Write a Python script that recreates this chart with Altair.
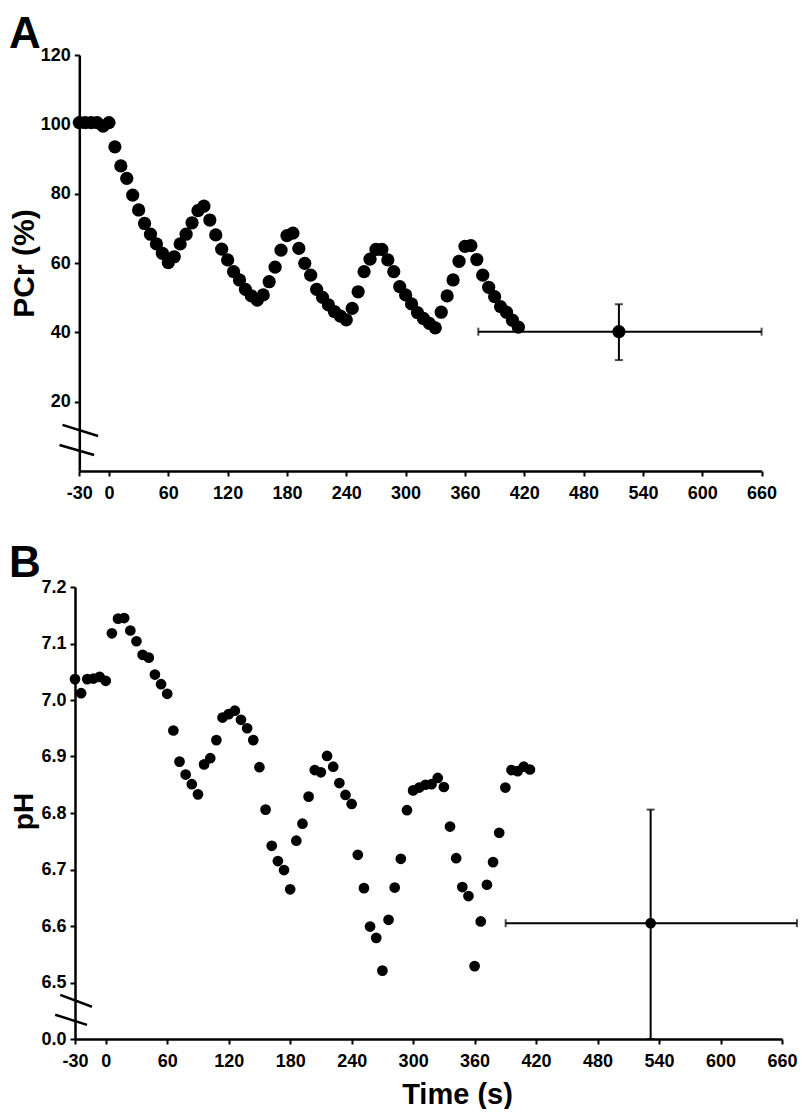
import altair as alt
import pandas as pd

# ---------------- data ----------------
time_s = [-30, -24, -18, -12, -6, 0, 6, 12, 18, 24, 30, 36, 42, 48, 54, 60,
          66, 72, 78, 84, 90, 96, 102, 108, 114, 120, 126, 132, 138, 144, 150,
          156, 162, 168, 174, 180, 186, 192, 198, 204, 210, 216, 222, 228, 234,
          240, 246, 252, 258, 264, 270, 276, 282, 288, 294, 300, 306, 312, 318,
          324, 330, 336, 342, 348, 354, 360, 366, 372, 378, 384, 390, 396, 402,
          408, 414]

pcr_pct = [100.5, 100.5, 100.5, 100.5, 99.5, 100.5, 93.5, 88.0, 84.4, 79.6,
           75.3, 71.4, 68.3, 65.5, 62.8, 60.1, 61.8, 65.5, 68.3, 71.6, 75.1,
           76.4, 72.4, 68.1, 64.0, 60.9, 57.5, 55.1, 52.4, 50.5, 49.3, 50.8,
           54.6, 58.8, 63.7, 67.9, 68.6, 64.2, 59.9, 56.5, 52.4, 50.1, 47.9,
           46.0, 44.7, 43.6, 46.9, 51.7, 57.5, 61.1, 63.9, 63.9, 60.9, 57.5,
           53.2, 50.8, 48.2, 45.7, 44.0, 42.6, 41.3, 45.8, 50.5, 55.1, 60.5,
           64.8, 65.0, 61.0, 56.5, 53.0, 50.3, 47.4, 45.8, 43.5, 41.5]

ph_vals = [7.037, 7.012, 7.037, 7.038, 7.041, 7.034, 7.118, 7.144, 7.145, 7.123,
           7.104, 7.080, 7.075, 7.045, 7.028, 7.011, 6.946, 6.891, 6.868, 6.851,
           6.833, 6.886, 6.897, 6.929, 6.969, 6.975, 6.981, 6.965, 6.950, 6.929,
           6.881, 6.806, 6.742, 6.715, 6.699, 6.665, 6.751, 6.781, 6.829, 6.876,
           6.872, 6.901, 6.882, 6.853, 6.832, 6.816, 6.726, 6.667, 6.599, 6.579,
           6.521, 6.611, 6.668, 6.719, 6.805, 6.840, 6.845, 6.850, 6.851, 6.862,
           6.846, 6.776, 6.720, 6.669, 6.653, 6.529, 6.608, 6.673, 6.713, 6.765,
           6.845, 6.876, 6.874, 6.882, 6.877]

# recovery summary points (mean +/- SD)
pcr_rec = {"t": 515.7, "t_lo": 373.5, "t_hi": 660.0, "v": 40.2, "v_lo": 32.0, "v_hi": 48.1}
ph_rec = {"t": 531.8, "t_lo": 390.3, "t_hi": 674.6, "v": 6.605, "v_lo": 6.40, "v_hi": 6.806}

x_ticks = [-30, 0, 60, 120, 180, 240, 300, 360, 420, 480, 540, 600, 660]
pcr_ticks = [20, 40, 60, 80, 100, 120]
ph_ticks = [6.4, 6.5, 6.6, 6.7, 6.8, 6.9, 7.0, 7.1, 7.2]

# axis-break marks (data units)
pcr_breaks = [{"x": -47, "x2": -11, "y": 13.3, "y2": 10.1},
              {"x": -50, "x2": -15, "y": 7.5, "y2": 4.6}]
ph_breaks = [{"x": -44.4, "x2": -13.5, "y": 6.478, "y2": 6.457},
             {"x": -49.3, "x2": -18.3, "y": 6.443, "y2": 6.425}]

FONT = "Liberation Sans"
W = 707
LEFT = -66

df_a = pd.DataFrame({"t": time_s, "v": pcr_pct})
df_b = pd.DataFrame({"t": time_s, "v": ph_vals})


def panel(df, rec, breaks, letter, height, xscale, yscale, yaxis, xaxis, dot_size, ylet, ytop):
    x = alt.X("t:Q", scale=xscale, axis=xaxis)
    y = alt.Y("v:Q", scale=yscale, axis=yaxis)
    pts = alt.Chart(df).mark_circle(size=dot_size, color="black", opacity=1).encode(x=x, y=y)

    rdf = pd.DataFrame([rec])
    hbar = alt.Chart(rdf).mark_rule(color="black", strokeWidth=2).encode(
        x=alt.X("t_lo:Q", scale=xscale), x2="t_hi:Q", y=alt.Y("v:Q", scale=yscale))
    vbar = alt.Chart(rdf).mark_rule(color="black", strokeWidth=2).encode(
        x=alt.X("t:Q", scale=xscale), y=alt.Y("v_lo:Q", scale=yscale), y2="v_hi:Q")
    hcaps_df = pd.DataFrame({"t": [rec["t_lo"], rec["t_hi"]], "v": [rec["v"], rec["v"]]})
    vcaps_df = pd.DataFrame({"t": [rec["t"], rec["t"]], "v": [rec["v_lo"], rec["v_hi"]]})
    hcaps = alt.Chart(hcaps_df).mark_tick(orient="vertical", color="black", size=8, thickness=2).encode(
        x=alt.X("t:Q", scale=xscale), y=alt.Y("v:Q", scale=yscale))
    vcaps = alt.Chart(vcaps_df).mark_tick(orient="horizontal", color="black", size=8, thickness=2).encode(
        x=alt.X("t:Q", scale=xscale), y=alt.Y("v:Q", scale=yscale))
    cen = alt.Chart(rdf).mark_circle(size=dot_size, color="black", opacity=1).encode(
        x=alt.X("t:Q", scale=xscale), y=alt.Y("v:Q", scale=yscale))

    brk = alt.Chart(pd.DataFrame(breaks)).mark_rule(color="black", strokeWidth=2.5).encode(
        x=alt.X("x:Q", scale=xscale), x2="x2:Q", y=alt.Y("y:Q", scale=yscale), y2="y2:Q")

    lab = alt.Chart(pd.DataFrame({"lab": [letter]})).mark_text(
        align="left", baseline="top", font=FONT, fontSize=44, fontWeight="bold", color="black"
    ).encode(x=alt.value(LEFT), y=alt.value(ylet), text="lab:N")

    # invisible spacer that reserves room above the panel letter
    spacer = alt.Chart(pd.DataFrame({"s": [0]})).mark_rule(color="white", strokeOpacity=0, strokeWidth=0.1).encode(
        x=alt.value(LEFT), x2=alt.value(LEFT + 1), y=alt.value(ytop))

    return alt.layer(pts, hbar, vbar, hcaps, vcaps, cen, brk, lab, spacer).properties(width=W, height=height)


common_axis = dict(
    domainColor="black", domainWidth=2.5, tickColor="black", tickWidth=2, tickSize=5,
    labelFont=FONT, labelFontSize=18, labelFontWeight="bold", labelColor="black",
    labelOverlap=False, labelFlush=False, grid=False,
    titleFont=FONT, titleFontWeight="bold", titleColor="black",
)

# Panel A
xs_a = alt.Scale(domain=[-30, 660], range=[4.3, 686.6], nice=False, zero=False)
ys_a = alt.Scale(domain=[0, 120], nice=False, zero=False)
xa_a = alt.Axis(values=x_ticks, title=None, labelPadding=8, labelExpr="'' + datum.value", **common_axis)
ya_a = alt.Axis(values=pcr_ticks, title="PCr (%)", labelPadding=4, offset=-4.3, titleFontSize=30,
                titleAngle=-90, titleBaseline="middle", titleX=-55.3, titleY=208, **common_axis)
chart_a = panel(df_a, pcr_rec, pcr_breaks, "A", 416, xs_a, ys_a, ya_a, xa_a, 175, -42, -47)

# Panel B
xs_b = alt.Scale(domain=[-30, 660], nice=False, zero=False)
ys_b = alt.Scale(domain=[6.4, 7.2], nice=False, zero=False)
xa_b = alt.Axis(values=x_ticks, title="Time (s)", labelPadding=8, labelExpr="'' + datum.value",
                titleFontSize=29, titleX=382, titleY=64, titleBaseline="alphabetic", **common_axis)
ya_b = alt.Axis(values=ph_ticks, title="pH", labelPadding=4, titleFontSize=28,
                labelExpr="datum.value < 6.45 ? '0.0' : format(datum.value, '.1f')",
                titleAngle=-90, titleBaseline="middle", titleX=-51, titleY=224, **common_axis)
chart_b = panel(df_b, ph_rec, ph_breaks, "B", 452, xs_b, ys_b, ya_b, xa_b, 115, -45, -45)

chart = alt.vconcat(chart_a, chart_b, spacing=40).properties(padding=0).configure_view(stroke=None)

chart.save("out.html", embed_options={"renderer": "svg", "actions": False})
